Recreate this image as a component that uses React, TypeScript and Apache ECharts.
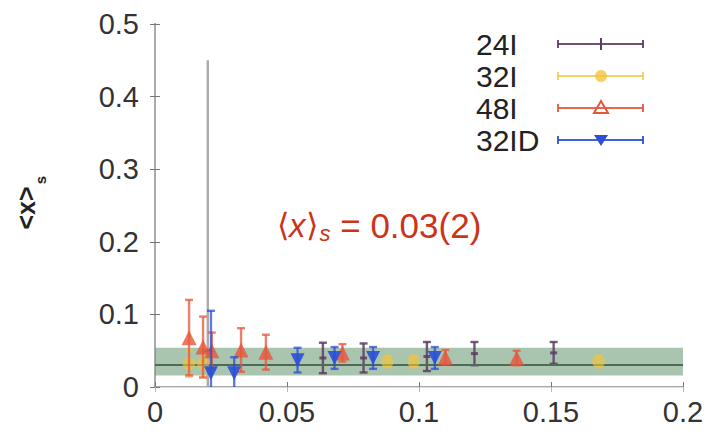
import React, { useEffect, useRef } from "react";
import * as echarts from "echarts";

// ---- data ----
const X_TICKS = [0, 0.05, 0.1, 0.15, 0.2];
const Y_TICKS = [0, 0.1, 0.2, 0.3, 0.4, 0.5];

const X_24I = [0.02, 0.0636, 0.079, 0.103, 0.121, 0.151];
const Y_24I = [0.05, 0.04, 0.04, 0.042, 0.046, 0.047];
const E_24I = [0.4, 0.021, 0.02, 0.02, 0.016, 0.015];

const X_32I = [0.0129, 0.0182, 0.088, 0.098, 0.168];
const Y_32I = [0.032, 0.033, 0.035, 0.035, 0.035];
const E_32I = [0.018, 0.019, 0.008, 0.008, 0.008];

const X_48I = [0.0129, 0.0182, 0.0215, 0.0326, 0.042, 0.071, 0.11, 0.137];
const Y_48I = [0.068, 0.055, 0.05, 0.051, 0.048, 0.047, 0.041, 0.04];
const E_48I = [0.052, 0.042, 0.025, 0.03, 0.024, 0.012, 0.01, 0.01];

const X_32ID = [0.0212, 0.03, 0.054, 0.068, 0.0826, 0.106];
const Y_32ID = [0.019, 0.019, 0.037, 0.04, 0.04, 0.04];
const E_32ID = [0.086, 0.022, 0.017, 0.015, 0.015, 0.015];

const FIT_CENTER = 0.034;
const FIT_LOW = 0.016;
const FIT_HIGH = 0.054;

const LEGEND = ["24I", "32I", "48I", "32ID"];

const C24 = "#5e3d62";
const C32 = "#f2c43a";
const C48 = "#e8553a";
const C32D = "#2b4fd6";
const FONT = "Liberation Sans, Arial, sans-serif";

const triples = (xs: number[], ys: number[], es: number[]) =>
  xs.map((x, i) => [x, ys[i], es[i]]);

function errSeries(name: string, data: number[][], color: string, opacity: number, z: number) {
  return {
    name,
    type: "custom",
    z,
    data,
    renderItem: (params: any, api: any) => {
      const x = api.value(0);
      const y = api.value(1);
      const e = api.value(2);
      const hi = Math.min(y + e, 0.5);
      const lo = Math.max(y - e, 0);
      const top = api.coord([x, hi]);
      const bot = api.coord([x, lo]);
      const stroke = e > 0.2 ? "#9c9c9c" : color;
      const cap = 4;
      const lw = 2.4;
      const children: any[] = [
        { type: "line", shape: { x1: top[0], y1: top[1], x2: bot[0], y2: bot[1] }, style: { stroke, lineWidth: lw, opacity } },
      ];
      if (y + e <= 0.5 && e < 0.2)
        children.push({ type: "line", shape: { x1: top[0] - cap, y1: top[1], x2: top[0] + cap, y2: top[1] }, style: { stroke, lineWidth: lw, opacity } });
      if (y - e >= 0)
        children.push({ type: "line", shape: { x1: bot[0] - cap, y1: bot[1], x2: bot[0] + cap, y2: bot[1] }, style: { stroke, lineWidth: lw, opacity } });
      return { type: "group", children };
    },
  };
}

function markSeries(name: string, data: number[][], color: string, symbol: string, size: any, rotate: number, opacity: number, z: number) {
  return {
    name,
    type: "scatter",
    z,
    data: data.map((d) => [d[0], d[1]]),
    symbol,
    symbolSize: size,
    symbolRotate: rotate,
    itemStyle: { color, opacity },
  };
}

export default function App() {
  const ref = useRef<HTMLDivElement>(null);
  useEffect(() => {
    if (!ref.current) return;
    const chart = echarts.init(ref.current, null, { renderer: "svg" });

    const d24 = triples(X_24I, Y_24I, E_24I);
    const d32 = triples(X_32I, Y_32I, E_32I);
    const d48 = triples(X_48I, Y_48I, E_48I);
    const d32D = triples(X_32ID, Y_32ID, E_32ID);

    const legendY = [44, 76, 108, 140];
    const legendColors = [C24, C32, C48, C32D];
    const legendGraphics: any[] = [];
    LEGEND.forEach((lab, i) => {
      const y = legendY[i];
      const c = legendColors[i];
      const op = i === 1 ? 0.75 : 0.9;
      legendGraphics.push({
        type: "text",
        x: 476,
        y,
        style: { text: lab, font: `30px ${FONT}`, fill: "#222", align: "left", verticalAlign: "middle" },
      });
      legendGraphics.push({ type: "line", shape: { x1: 558, y1: y, x2: 643, y2: y }, style: { stroke: c, lineWidth: 2, opacity: op } });
      legendGraphics.push({ type: "line", shape: { x1: 558, y1: y - 4, x2: 558, y2: y + 4 }, style: { stroke: c, lineWidth: 2, opacity: op } });
      legendGraphics.push({ type: "line", shape: { x1: 643, y1: y - 4, x2: 643, y2: y + 4 }, style: { stroke: c, lineWidth: 2, opacity: op } });
      if (i === 0) {
        legendGraphics.push({ type: "line", shape: { x1: 601, y1: y - 6, x2: 601, y2: y + 6 }, style: { stroke: c, lineWidth: 2 } });
      } else if (i === 1) {
        legendGraphics.push({ type: "circle", shape: { cx: 601, cy: y, r: 6 }, style: { fill: c, opacity: 0.8 } });
      } else if (i === 2) {
        legendGraphics.push({ type: "polygon", shape: { points: [[601, y - 7], [594, y + 5], [608, y + 5]] }, style: { fill: "none", stroke: c, lineWidth: 2 } });
      } else {
        legendGraphics.push({ type: "polygon", shape: { points: [[601, y + 6], [594, y - 5], [608, y - 5]] }, style: { fill: c } });
      }
    });

    const option: any = {
      animation: false,
      backgroundColor: "#fff",
      grid: { left: 155, right: 30, top: 24, bottom: 49, show: false },
      xAxis: [
        {
          type: "value",
          min: X_TICKS[0],
          max: X_TICKS[X_TICKS.length - 1],
          interval: 0.05,
          axisLine: { lineStyle: { color: "#aaaaaa", width: 2 } },
          axisTick: { inside: true, length: 5, lineStyle: { color: "#777" } },
          axisLabel: { fontSize: 29, color: "#333", fontFamily: FONT, margin: 10 },
          splitLine: { show: false },
        },
        {
          type: "value",
          position: "top",
          min: X_TICKS[0],
          max: X_TICKS[X_TICKS.length - 1],
          interval: 0.05,
          axisLine: { show: true, lineStyle: { color: "#dddddd", width: 1 } },
          axisTick: { inside: true, length: 5, lineStyle: { color: "#bbb" } },
          axisLabel: { show: false },
          splitLine: { show: false },
        },
      ],
      yAxis: [
        {
          type: "value",
          min: Y_TICKS[0],
          max: Y_TICKS[Y_TICKS.length - 1],
          interval: 0.1,
          axisLine: { show: true, lineStyle: { color: "#aaaaaa", width: 2 } },
          axisTick: { show: true, inside: true, length: 5, lineStyle: { color: "#777" } },
          axisLabel: { fontSize: 29, color: "#333", fontFamily: FONT, margin: 16 },
          splitLine: { show: false },
        },
        {
          type: "value",
          position: "right",
          min: Y_TICKS[0],
          max: Y_TICKS[Y_TICKS.length - 1],
          interval: 0.1,
          axisLine: { show: true, lineStyle: { color: "#aaaaaa", width: 2 } },
          axisTick: { show: true, inside: true, length: 5, lineStyle: { color: "#777" } },
          axisLabel: { show: false },
          splitLine: { show: false },
        },
      ],
      series: [
        {
          name: "fit",
          type: "line",
          data: [],
          z: 1,
          silent: true,
          markArea: {
            silent: true,
            itemStyle: { color: "rgba(100,150,110,0.55)" },
            data: [[{ yAxis: FIT_LOW }, { yAxis: FIT_HIGH }]],
          },
          markLine: {
            silent: true,
            symbol: "none",
            label: { show: false },
            lineStyle: { color: "#4d6b55", width: 2, type: "solid" },
            data: [{ yAxis: FIT_CENTER }],
          },
        },
        errSeries("24I", d24, C24, 0.85, 2),
        markSeries("24I", d24, C24, "rect", [7, 3], 0, 0.85, 3),
        errSeries("32I", d32, C32, 0.6, 4),
        markSeries("32I", d32, C32, "circle", 13, 0, 0.6, 5),
        errSeries("48I", d48, C48, 0.75, 6),
        markSeries("48I", d48, C48, "triangle", 15, 0, 0.8, 7),
        errSeries("32ID", d32D, C32D, 0.75, 8),
        markSeries("32ID", d32D, C32D, "triangle", 14, 180, 0.9, 9),
      ],
      graphic: [
        ...legendGraphics,
        {
          type: "text",
          x: 277,
          y: 225,
          style: {
            text: "{a|⟨}{i|x}{a|⟩}{s|s}{b| = 0.03(2)}",
            verticalAlign: "middle",
            align: "left",
            rich: {
              a: { fontSize: 32, fontFamily: FONT, fill: "#cc3318" },
              b: { fontSize: 35, fontFamily: FONT, fill: "#cc3318" },
              i: { fontSize: 33, fontFamily: FONT, fontStyle: "italic", fill: "#cc3318" },
              s: { fontSize: 22, fontFamily: FONT, fontStyle: "italic", fill: "#cc3318", padding: [16, 0, 0, 2] },
            },
          },
        },
        {
          type: "text",
          x: 26,
          y: 208,
          rotation: Math.PI / 2,
          style: { text: "<x>", font: `bold 25px ${FONT}`, fill: "#222", align: "center", verticalAlign: "middle" },
        },
        {
          type: "text",
          x: 40,
          y: 180,
          rotation: Math.PI / 2,
          style: { text: "s", font: `bold 15px ${FONT}`, fill: "#222", align: "center", verticalAlign: "middle" },
        },
      ],
    };
    chart.setOption(option);
    return () => chart.dispose();
  }, []);
  return <div ref={ref} style={{ position: "absolute", left: 0, top: 0, width: 713, height: 436 }} />;
}
